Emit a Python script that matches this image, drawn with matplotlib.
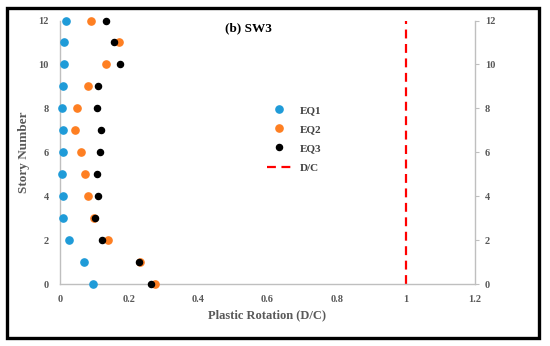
import matplotlib.pyplot as plt
from matplotlib.patches import Rectangle

# story levels and plastic rotation (D/C) per earthquake record
story = [0, 1, 2, 3, 4, 5, 6, 7, 8, 9, 10, 11, 12]
eq1 = [0.096, 0.068, 0.026, 0.009, 0.008, 0.007, 0.008, 0.009, 0.006, 0.008, 0.011, 0.011, 0.016]
eq2 = [0.274, 0.232, 0.138, 0.098, 0.082, 0.071, 0.062, 0.043, 0.049, 0.080, 0.132, 0.171, 0.091]
eq3 = [0.263, 0.227, 0.122, 0.102, 0.109, 0.108, 0.115, 0.119, 0.106, 0.109, 0.174, 0.156, 0.133]
dc_x = [1, 1]
dc_y = [0, 12]

xticks = [0, 0.2, 0.4, 0.6, 0.8, 1, 1.2]
xticklabels = ['0', '0.2', '0.4', '0.6', '0.8', '1', '1.2']
yticks = [0, 2, 4, 6, 8, 10, 12]

plt.rcParams['font.family'] = ['Liberation Serif', 'DejaVu Serif']
plt.rcParams['font.weight'] = 'bold'
gray = '#595959'
spine_gray = '#bfbfbf'

fig = plt.figure(figsize=(5.5, 3.46), dpi=100)
ax = fig.add_axes([60 / 550, 1 - 284 / 346, 415 / 550, 263.5 / 346])

ax.plot(eq1, story, 'o', color='#1f9bd8', ms=5.2, label='EQ1', zorder=3, clip_on=False)
ax.plot(eq2, story, 'o', color='#fe7f22', ms=5.2, label='EQ2', zorder=3, clip_on=False)
ax.plot(eq3, story, 'o', color='black', ms=4.4, label='EQ3', zorder=4, clip_on=False)
ax.plot(dc_x, dc_y, color='#ff0000', lw=1.6, dashes=(4, 2.5), label='D/C', zorder=2)

ax.set_xlim(0, 1.2)
ax.set_ylim(0, 12)
ax.set_xticks(xticks)
ax.set_xticklabels(xticklabels)
ax.set_yticks(yticks)
ax.tick_params(axis='both', length=0, labelsize=7.5, colors=gray, pad=8)
for lab in ax.get_xticklabels() + ax.get_yticklabels():
    lab.set_fontweight('bold')
ax.spines['top'].set_visible(False)
ax.spines['right'].set_visible(False)
for s in ['left', 'bottom']:
    ax.spines[s].set_color(spine_gray)
    ax.spines[s].set_linewidth(1.0)

ax2 = ax.twinx()
ax2.set_ylim(0, 12)
ax2.set_yticks(yticks)
ax2.tick_params(axis='y', length=3, width=0.8, color=spine_gray, labelsize=7.5,
                labelcolor=gray, pad=4)
for lab in ax2.get_yticklabels():
    lab.set_fontweight('bold')
for s in ['top', 'left', 'bottom']:
    ax2.spines[s].set_visible(False)
ax2.spines['right'].set_color(spine_gray)
ax2.spines['right'].set_linewidth(1.0)

ax.set_xlabel('Plastic Rotation (D/C)', fontsize=9, fontweight='bold', color=gray, labelpad=4)
ax.set_ylabel('Story Number', fontsize=9.5, fontweight='bold', color=gray, labelpad=6)
ax.text(0.453, 0.972, '(b) SW3', transform=ax.transAxes, ha='center', va='center',
        fontsize=9.5, fontweight='bold', color='black')

leg = ax.legend(loc='upper left', bbox_to_anchor=(0.4735, 0.717), frameon=False,
                fontsize=8, labelspacing=0.85, handlelength=2.2, handletextpad=0.8,
                labelcolor='#404040')
for t in leg.get_texts():
    t.set_fontweight('bold')

fig.patches.append(Rectangle((7 / 550, 8 / 346), 532 / 550, 330 / 346, transform=fig.transFigure,
                             fill=False, edgecolor='black', lw=2.4))

fig.savefig('out.png', dpi=100)
